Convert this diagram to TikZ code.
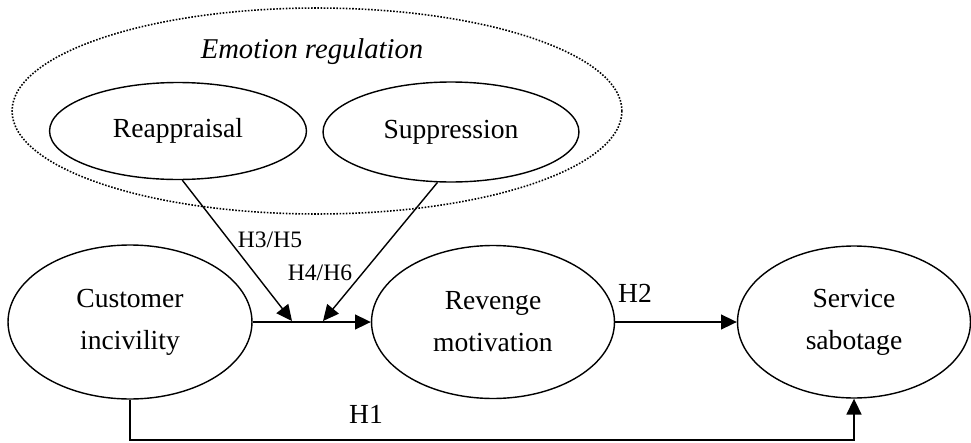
\documentclass[tikz,border=0pt]{standalone}
\usepackage{fontspec}
\setmainfont{Liberation Serif}
\usetikzlibrary{shapes.geometric,arrows.meta}

\tikzset{
	knoten/.style={ellipse, draw, line width=0.8pt, align=center, inner sep=0pt,
		font=\fontsize{15.7}{24}\selectfont},
	pfeil/.style={line width=0.8pt, -{Triangle[length=9pt,width=8.5pt]}},
	hyp/.style={font=\fontsize{13.4}{16}\selectfont},
}

\begin{document}
\begin{tikzpicture}[x=0.02cm, y=-0.02cm]
	\useasboundingbox (0,0) rectangle (971,443); % Rand wie im Original
	
	% aeussere Ellipse (gepunktet)
	\node[ellipse, draw, line width=0.9pt, dash pattern=on 0.9pt off 0.9pt,
		minimum width=12.2cm, minimum height=4.12cm] (er) at (317,111) {};
	\node[font=\fontsize{16.3}{20}\selectfont\itshape] (ertext) at (312,52) {Emotion regulation};
	
	% Moderatoren
	\node[knoten, minimum width=5.14cm, minimum height=1.94cm] (reap) at (178,131) {Reappraisal};
	\node[knoten, minimum width=5.12cm, minimum height=2.0cm] (supp) at (451,132) {Suppression};
	
	% Hauptkette
	\node[knoten, minimum width=4.88cm, minimum height=3.08cm] (ci) at (130,322) {Customer\\incivility};
	\node[knoten, minimum width=4.86cm, minimum height=3.06cm] (rm) at (493,322) {Revenge\\motivation};
	\node[knoten, minimum width=4.66cm, minimum height=3.04cm] (ss) at (854,322) {Service\\sabotage};
	
	\coordinate (m1) at (292,321);
	\coordinate (m2) at (323,321);
	\coordinate (unten) at (0,440);
	
	\draw[pfeil] (ci.east) -- (rm.west);
	\draw[pfeil] (rm.east) -- (ss.west);
	\draw[pfeil] (reap.275) -- (m1);
	\draw[pfeil] (supp.255) -- (m2);
	\draw[pfeil] (ci.south) -- (ci.south |- unten) -| (ss.south);
	
	% Hypothesen
	\node[hyp] (h35) at (270,240) {H3/H5};
	\node[hyp] (h46) at (320,273) {H4/H6};
	\node[font=\fontsize{15.7}{20}\selectfont] (h2) at (635,293) {H2};
	\node[font=\fontsize{15.7}{20}\selectfont] (h1) at (366,414) {H1};
	
	%\draw[help lines, step=50] (0,0) grid (971,443);
\end{tikzpicture}
\end{document}
